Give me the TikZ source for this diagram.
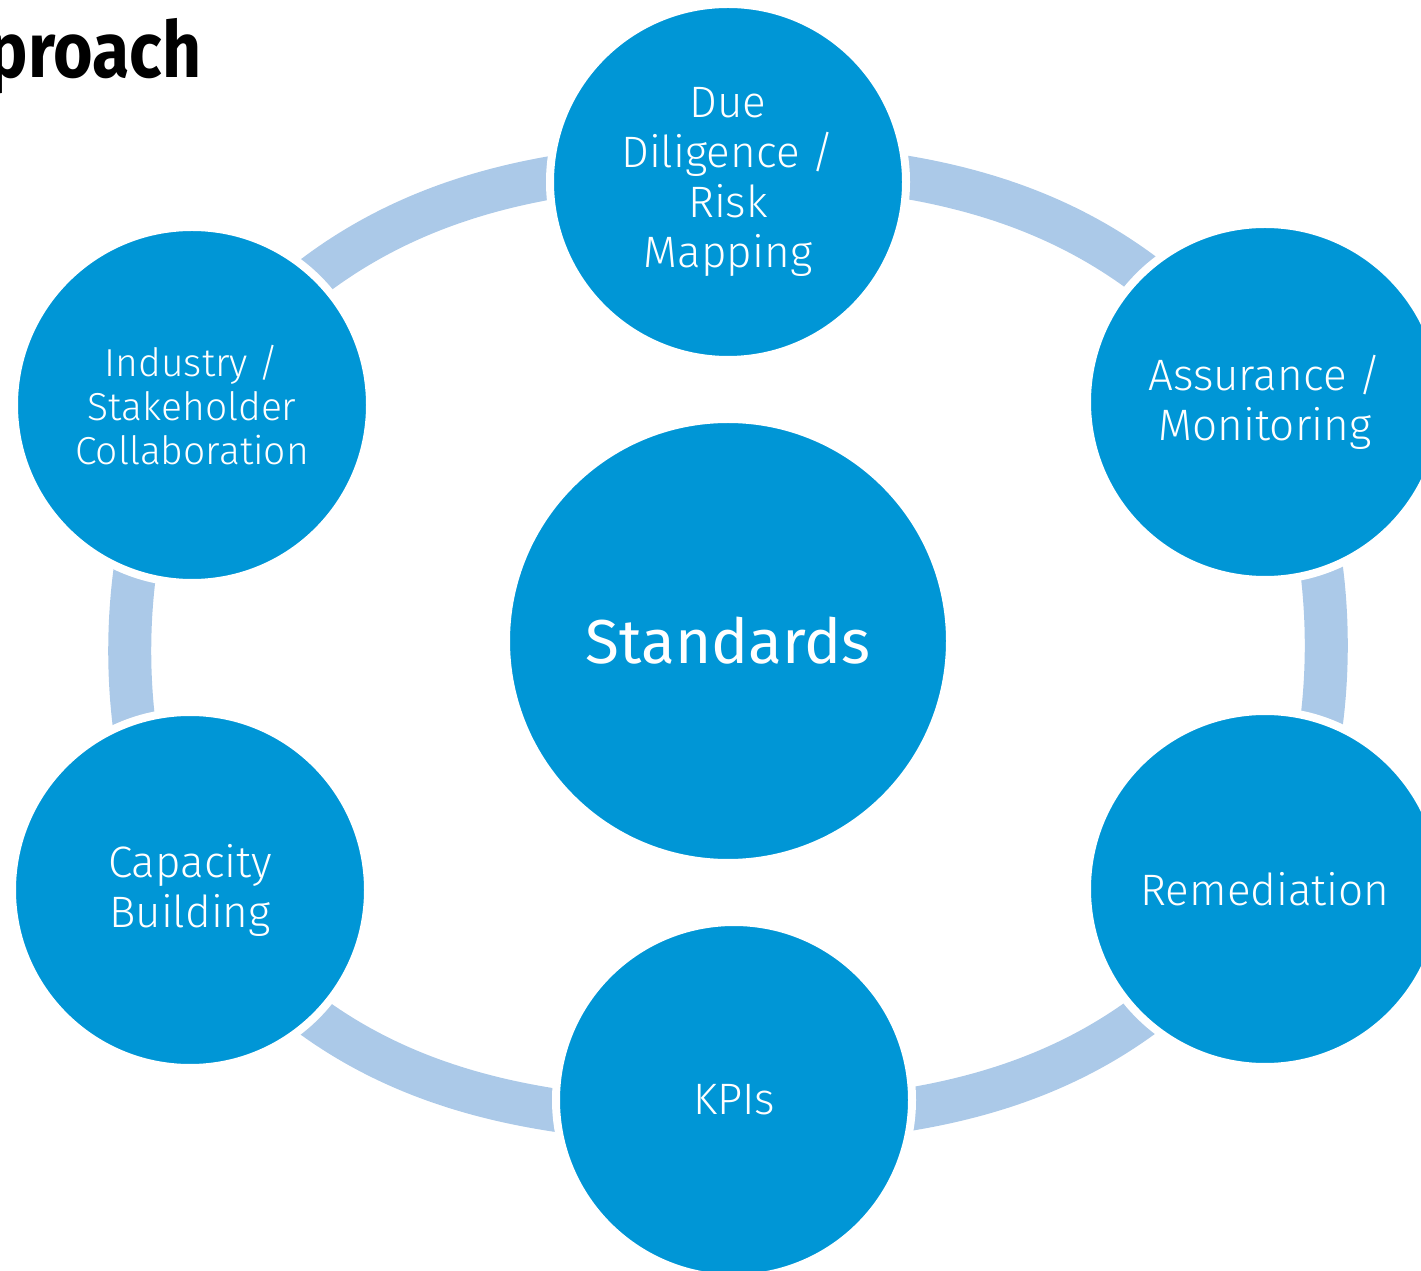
\documentclass[tikz,border=0pt]{standalone}
\usepackage{fontspec}
\setmainfont{Fira Sans}[UprightFont=* Light, BoldFont=* Bold]
\newfontfamily\stdfont{Fira Sans}
\usetikzlibrary{backgrounds}
\definecolor{hpblue}{HTML}{0096D6}
\definecolor{ringblue}{HTML}{ABC9E8}

\begin{document}
\begin{tikzpicture}[x=1pt, y=1pt,
  blob/.style={circle, fill=hpblue, draw=white, line width=8pt, minimum size=356pt,
    inner sep=0pt, text=white, align=center, font=\fontsize{44}{50}\selectfont},
  ring/.style={draw=ringblue, line width=43pt}]
  \clip (0, 0) rectangle (1421, 1270);
  \node[anchor=base east, font=\fontsize{78}{78}\selectfont\bfseries] (title) at (205, 1192) {\scalebox{0.87}[1]{proach}};
  % the six steps round the cycle
  \node[blob] (dd) at (728, 1088) {Due\\Diligence /\\Risk\\Mapping};
  \node[blob] (am) at (1265, 868) {Assurance /\\Monitoring};
  \node[blob] (rem) at (1265, 381) {Remediation};
  \node[blob] (kpi) at (734, 170) {KPIs};
  \node[blob] (cap) at (190, 380) {Capacity\\Building};
  \node[blob, font=\fontsize{39}{44}\selectfont] (ind) at (192, 865) {Industry /\\Stakeholder\\Collaboration};
  \node[blob, minimum size=444pt, font=\fontsize{62}{70}\stdfont] (std) at (728, 629) {Standards};
  % ring behind the circles
  \begin{scope}[on background layer]
    \draw[ring] ([yshift=18pt]dd.center) to[out=0, in=125] (am.center)
      to[out=-55, in=55, looseness=0.75] (rem.center)
      to[out=-125, in=0] ([yshift=-22pt]kpi.center)
      to[out=180, in=-55] (cap.center)
      to[out=125, in=-125, looseness=0.75] (ind.center)
      to[out=55, in=180] ([yshift=18pt]dd.center);
  \end{scope}
\end{tikzpicture}
\end{document}
